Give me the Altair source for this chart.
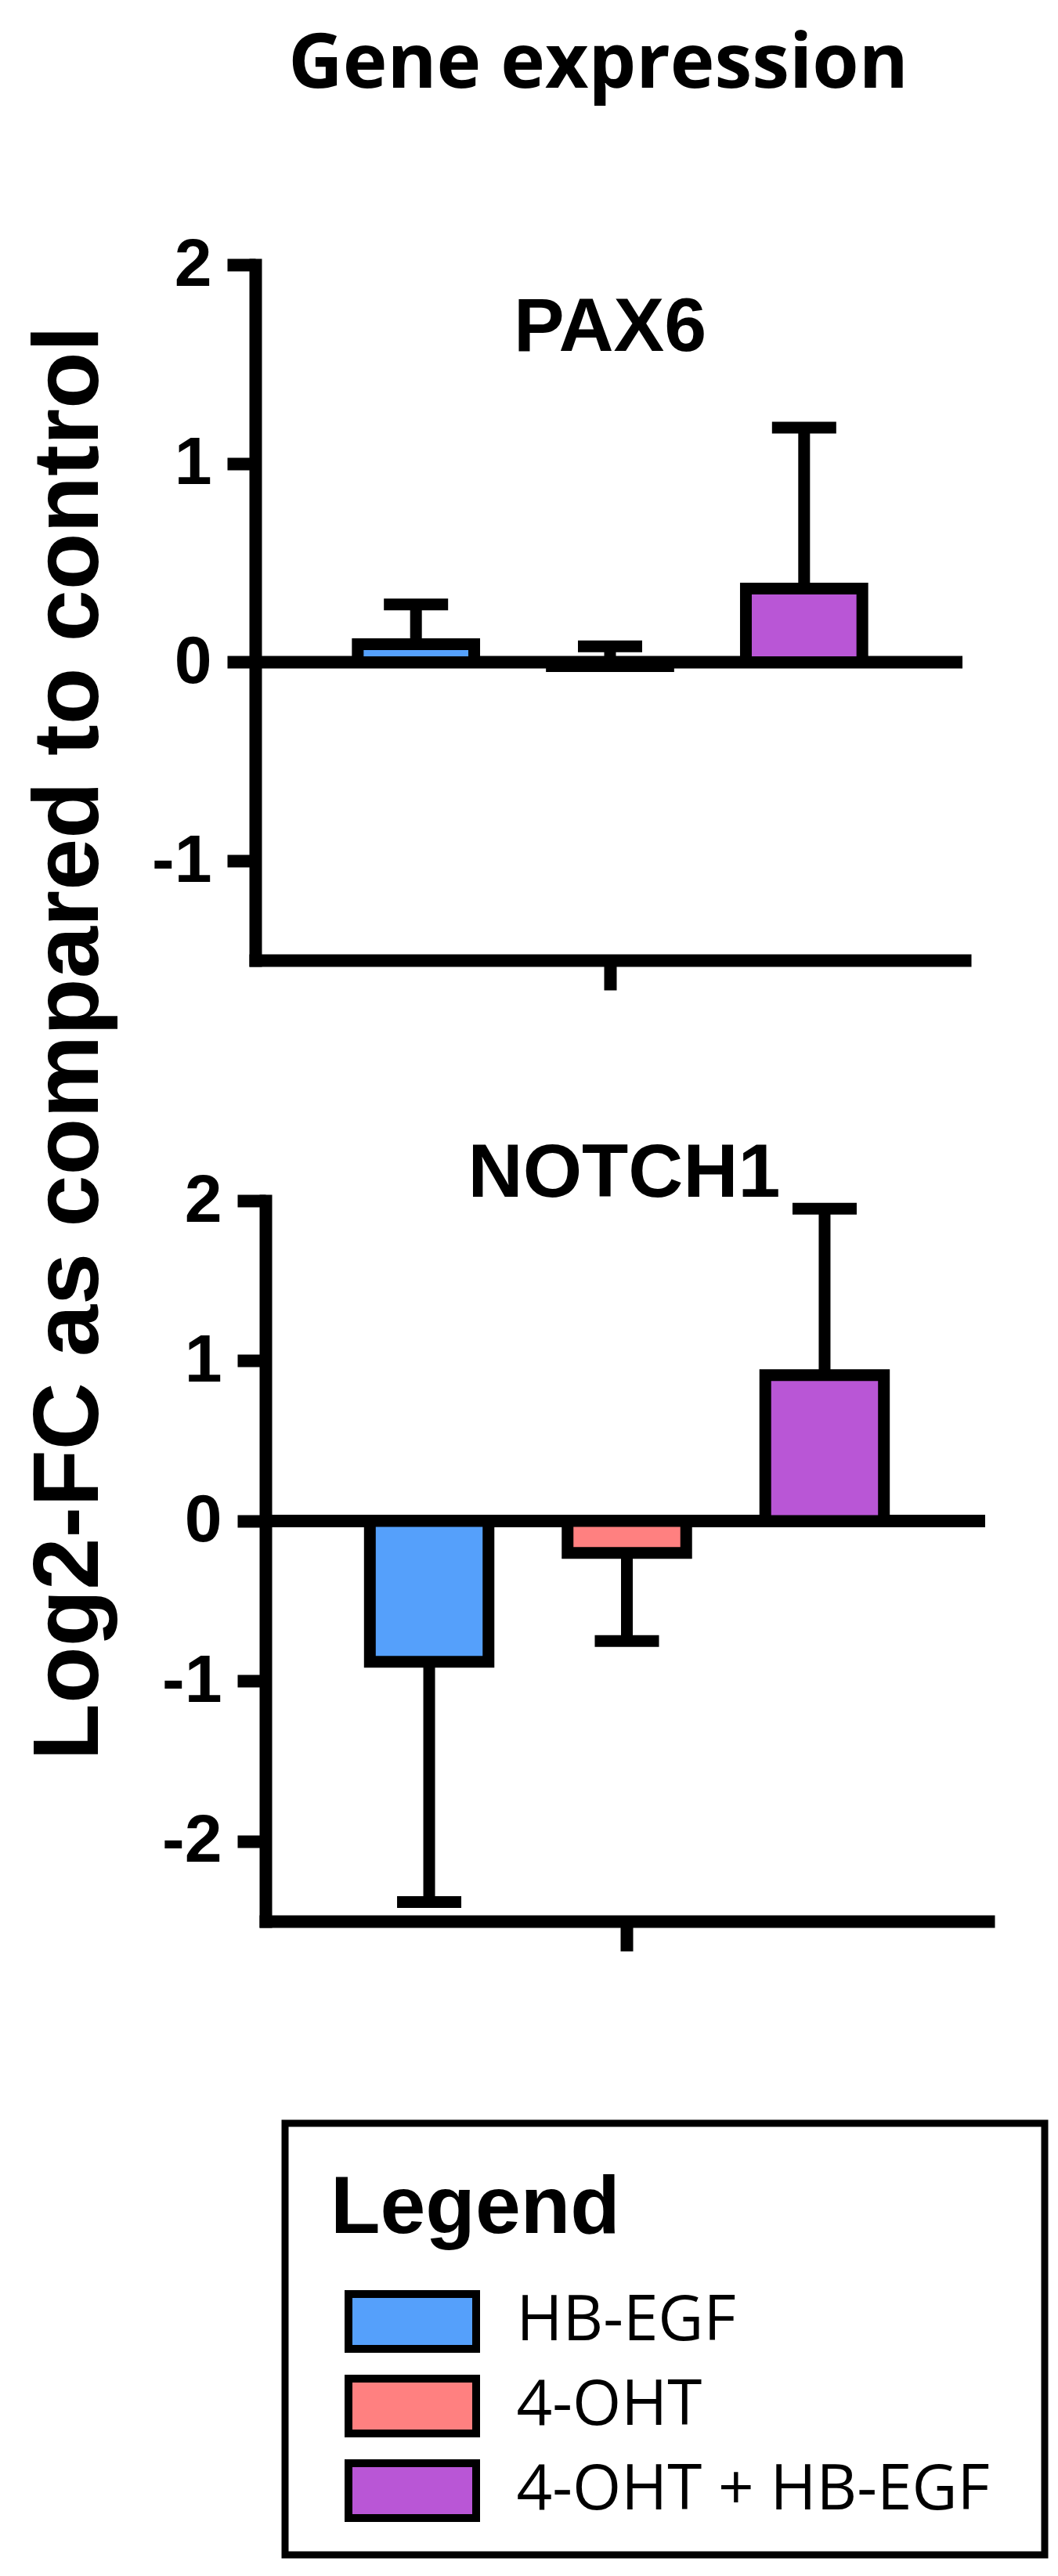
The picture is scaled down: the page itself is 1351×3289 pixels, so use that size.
import altair as alt
import pandas as pd

# ---------------- data ----------------
CATEGORIES = ["HB-EGF", "4-OHT", "4-OHT + HB-EGF"]
COLORS = ["#55A0FB", "#FF8080", "#B956D6"]
GENES = ["PAX6", "NOTCH1"]

PAX6_MEAN = [0.09, -0.02, 0.37]
PAX6_ERR = [0.29, 0.08, 1.18]
NOTCH1_MEAN = [-0.88, -0.20, 0.91]
NOTCH1_ERR = [-2.38, -0.75, 1.95]

PAX6_TICKS = [-1, 0, 1, 2]
NOTCH1_TICKS = [-2, -1, 0, 1, 2]
PAX6_DOMAIN = [-1.5, 2]
NOTCH1_DOMAIN = [-2.5, 2]

TITLE = "Gene expression"
Y_TITLE = "Log2-FC as compared to control"
LEGEND_TITLE = "Legend"

# ---------------- styling ----------------
W, H = 1017, 3270
BLACK = "#000000"
ARIAL = "Liberation Sans"
LINE = 16

legend = alt.Legend(
    title=LEGEND_TITLE, orient="none", legendX=38, legendY=2703,
    direction="vertical", padding=58,
    titleFont=ARIAL, titleFontSize=104, titleFontWeight="bold", titleColor=BLACK,
    titlePadding=46, titleLimit=2000, titleAnchor="start",
    labelFont="Open Sans", labelFontSize=80, labelColor=BLACK, labelLimit=2000,
    labelOffset=88,
    symbolType="M-2.0375,-0.875H2.0375V0.875H-2.0375Z", symbolSize=6400,
    symbolStrokeColor=BLACK, symbolStrokeWidth=10, symbolOpacity=1,
    symbolOffset=59.5, rowPadding=-2,
)
color = alt.Color("cat:N", scale=alt.Scale(domain=CATEGORIES, range=COLORS), legend=legend)


def panel(gene, means, errs, domain, ticks, yrange, xrange, yoff, xoff, zero_end, tpos):
    df = pd.DataFrame({"cat": CATEGORIES, "mean": means, "err": errs})
    zdf = pd.DataFrame({"zero": [0]})
    gdf = pd.DataFrame({"g": [gene]})

    def xsc():
        return alt.Scale(domain=CATEGORIES, range=xrange, paddingInner=0.4, paddingOuter=0.528)

    def ysc():
        return alt.Scale(domain=domain, range=yrange, nice=False, zero=False)

    yaxis = alt.Axis(
        orient="left", offset=yoff, values=ticks, grid=False, title=None,
        domainColor=BLACK, domainWidth=LINE, domainCap="square",
        tickColor=BLACK, tickWidth=LINE, tickSize=36,
        labelFont=ARIAL, labelFontSize=86, labelFontWeight="bold", labelColor=BLACK,
        labelPadding=20, labelExpr="'' + datum.value", labelOverlap=False,
    )
    xaxis = alt.Axis(
        orient="bottom", offset=xoff, values=["4-OHT"], labels=False, title=None, grid=False,
        domainColor=BLACK, domainWidth=LINE, domainCap="square",
        tickColor=BLACK, tickWidth=LINE, tickSize=38, bandPosition=0.5,
    )

    zero = alt.Chart(zdf).mark_rule(color=BLACK, strokeWidth=LINE).encode(
        y=alt.Y("zero:Q", scale=ysc(), axis=None),
        x=alt.value(xrange[0]), x2=alt.value(zero_end),
    )
    bars = alt.Chart(df).mark_bar(stroke=BLACK, strokeWidth=15, opacity=1).encode(
        x=alt.X("cat:N", scale=xsc(), axis=xaxis, sort=CATEGORIES),
        y=alt.Y("mean:Q", scale=ysc(), axis=yaxis),
        color=color,
    )
    err = alt.Chart(df).mark_rule(color=BLACK, strokeWidth=15).encode(
        x=alt.X("cat:N", scale=xsc(), axis=None, sort=CATEGORIES),
        y=alt.Y("mean:Q", scale=ysc(), axis=None),
        y2="err:Q",
    )
    caps = alt.Chart(df).mark_tick(color=BLACK, thickness=15, size=82, opacity=1).encode(
        x=alt.X("cat:N", scale=xsc(), axis=None, sort=CATEGORIES),
        y=alt.Y("err:Q", scale=ysc(), axis=None),
    )
    label = alt.Chart(gdf).mark_text(
        font=ARIAL, fontWeight="bold", fontSize=97, color=BLACK,
        align="center", baseline="alphabetic",
    ).encode(text="g:N", x=alt.value(tpos[0]), y=alt.value(tpos[1]))
    return [zero, bars, err, caps, label]


p1 = panel(GENES[0], PAX6_MEAN, PAX6_ERR, PAX6_DOMAIN, PAX6_TICKS,
           yrange=[1218, 330], xrange=[0, 906], yoff=0, xoff=1218 - H,
           zero_end=903, tpos=(453, 440))
p2 = panel(GENES[1], NOTCH1_MEAN, NOTCH1_ERR, NOTCH1_DOMAIN, NOTCH1_TICKS,
           yrange=[2445, 1525], xrange=[13, 936], yoff=-13, xoff=2445 - H,
           zero_end=932, tpos=(471, 1520))

title = alt.Chart(pd.DataFrame({"t": [TITLE]})).mark_text(
    font="Open Sans", fontWeight="bold", fontSize=96, color=BLACK,
    align="center", baseline="alphabetic",
).encode(text="t:N", x=alt.value(438), y=alt.value(104))

ytitle = alt.Chart(pd.DataFrame({"t": [Y_TITLE]})).mark_text(
    font=ARIAL, fontWeight="bold", fontSize=119, color=BLACK, angle=270,
    align="center", baseline="alphabetic",
).encode(text="t:N", x=alt.value(-201), y=alt.value(1324))

# legend frame
frame = alt.Chart(pd.DataFrame({"f": [LEGEND_TITLE]})).mark_rect(
    fill="white", stroke=BLACK, strokeWidth=9,
).encode(x=alt.value(38), x2=alt.value(1008), y=alt.value(2703), y2=alt.value(3254))

chart = (
    alt.layer(title, ytitle, frame, *p1, *p2)
    .resolve_scale(x="independent", y="independent")
    .properties(
        width=W, height=H,
        autosize=alt.AutoSizeParams(type="none"),
        padding={"left": 318, "right": 0, "top": 0, "bottom": 0},
        background="white",
    )
    .configure_view(stroke=None)
)

chart.save("out.html", embed_options={"renderer": "svg", "actions": False})
